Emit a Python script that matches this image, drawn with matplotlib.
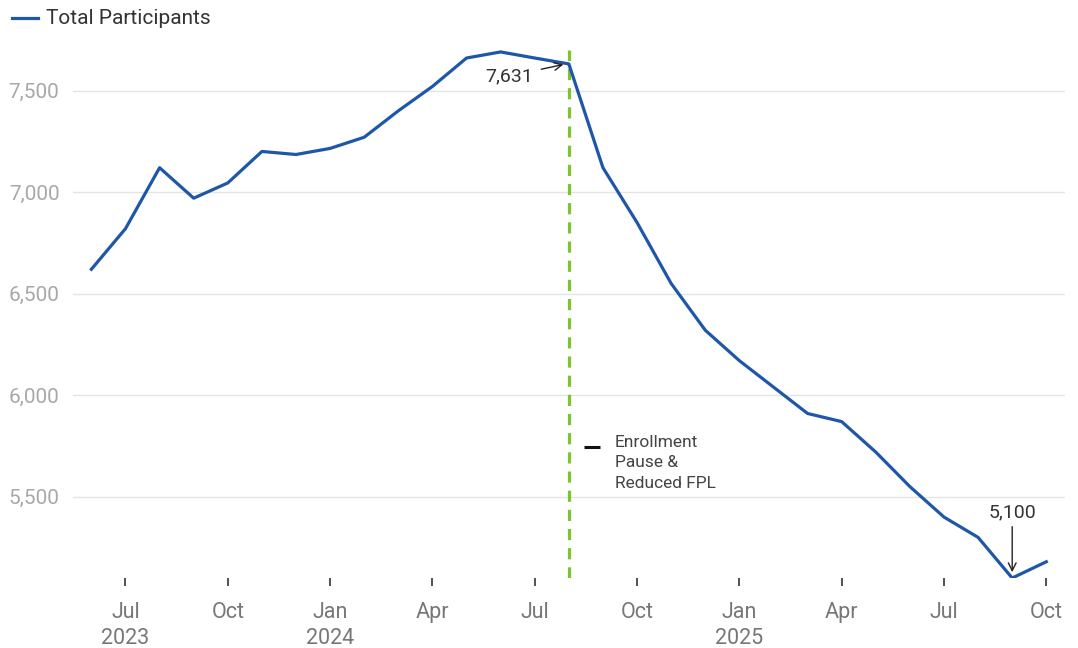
import matplotlib
matplotlib.use("Agg")
import matplotlib.pyplot as plt

plt.rcParams['font.family'] = ['Roboto', 'DejaVu Sans']

# monthly totals, Jun 2023 .. Oct 2025
months = ["Jun 2023", "Jul 2023", "Aug 2023", "Sep 2023", "Oct 2023", "Nov 2023", "Dec 2023",
          "Jan 2024", "Feb 2024", "Mar 2024", "Apr 2024", "May 2024", "Jun 2024", "Jul 2024",
          "Aug 2024", "Sep 2024", "Oct 2024", "Nov 2024", "Dec 2024", "Jan 2025", "Feb 2025",
          "Mar 2025", "Apr 2025", "May 2025", "Jun 2025", "Jul 2025", "Aug 2025", "Sep 2025",
          "Oct 2025"]
participants = [6620, 6820, 7120, 6970, 7045, 7200, 7185, 7215, 7270, 7400, 7520, 7660,
                7690, 7660, 7631, 7120, 6850, 6550, 6320, 6170, 6040, 5910, 5870, 5720,
                5550, 5400, 5300, 5100, 5180]

tick_pos = [1, 4, 7, 10, 13, 16, 19, 22, 25, 28]
tick_labels = ["Jul\n2023", "Oct", "Jan\n2024", "Apr", "Jul", "Oct", "Jan\n2025", "Apr", "Jul", "Oct"]
y_ticks = [5500, 6000, 6500, 7000, 7500]

pause_month = 14      # Aug 2024
peak_idx = 14
low_idx = 27

blue = "#1f57a8"
green = "#7dc52e"

fig = plt.figure(figsize=(10.78, 6.48), dpi=100)
ax = fig.add_axes([0.068, 0.108, 0.920, 0.815])

x = list(range(len(months)))
ax.plot(x, participants, color=blue, lw=2.3, solid_joinstyle="round", zorder=3)
ax.axvline(pause_month, color=green, lw=2.3, ls=(0, (3.5, 2.5)), zorder=2)

ax.set_xlim(-0.53, 28.55)
ax.set_ylim(5100, 7700)
ax.set_yticks(y_ticks)
ax.set_yticklabels([f"{v:,}" for v in y_ticks])
ax.set_xticks(tick_pos)
ax.set_xticklabels(tick_labels, linespacing=1.35)

ax.grid(axis="y", color="#e4e4e4", lw=1)
ax.set_axisbelow(True)
for s in ax.spines.values():
    s.set_visible(False)
ax.tick_params(axis="y", length=0, pad=10, labelsize=15, labelcolor="#a8a8a8")
ax.tick_params(axis="x", length=6, width=1.2, color="#333333", pad=11,
               labelsize=15.5, labelcolor="#777777", direction="out")

# annotations
ax.annotate(f"{participants[peak_idx]:,}", xy=(peak_idx - 0.08, participants[peak_idx]),
            xytext=(peak_idx - 1.05, participants[peak_idx] - 60), textcoords="data",
            ha="right", va="center", fontsize=14, color="#333333",
            arrowprops=dict(arrowstyle="->", color="#222222", lw=1,
                            shrinkA=4, shrinkB=2))
ax.annotate(f"{participants[low_idx]:,}", xy=(low_idx, participants[low_idx] + 15),
            xytext=(low_idx, participants[low_idx] + 280), textcoords="data",
            ha="center", va="bottom", fontsize=14, color="#333333",
            arrowprops=dict(arrowstyle="->", color="#222222", lw=1,
                            shrinkA=2, shrinkB=2))

# pause label with legend-style dash
ax.plot([pause_month + 0.45, pause_month + 0.9], [5745, 5745], color="#111111", lw=2.2,
        solid_capstyle="butt")
ax.text(pause_month + 1.35, 5805, "Enrollment\nPause &\nReduced FPL", ha="left", va="top",
        fontsize=12.5, color="#444444", linespacing=1.45)

# legend at top left
fig.lines.append(plt.Line2D([12 / 1078, 38 / 1078], [1 - 18 / 648, 1 - 18 / 648],
                            transform=fig.transFigure, color=blue, lw=2.3))
fig.text(46 / 1078, 1 - 18 / 648, "Total Participants", ha="left", va="center",
         fontsize=15, color="#333333")

fig.savefig("out.png", dpi=100)
